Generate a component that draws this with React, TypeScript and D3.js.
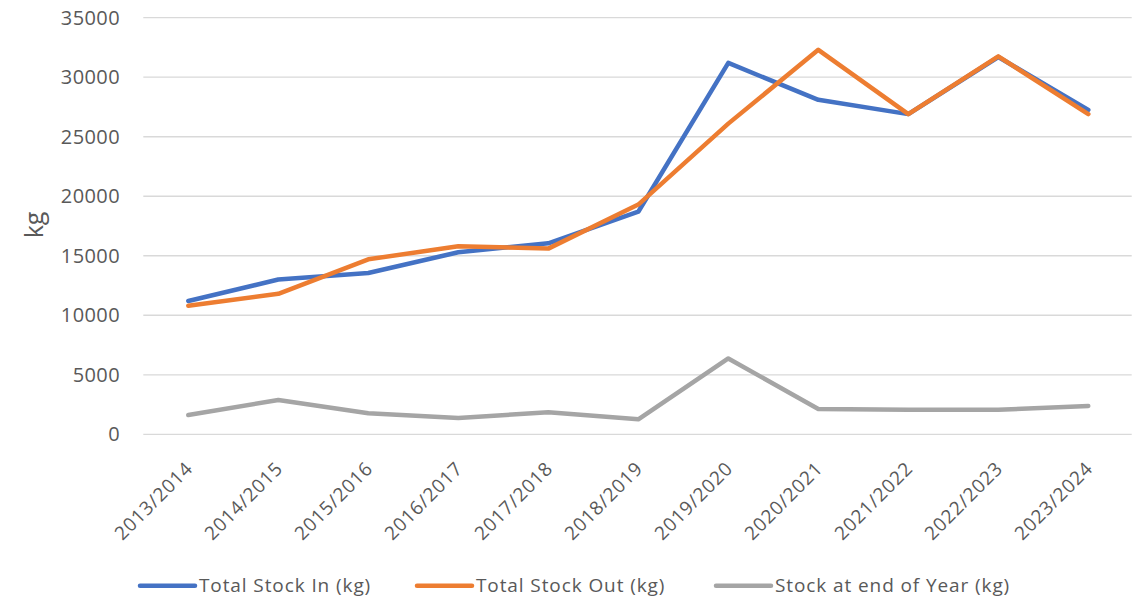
import React from "react";
import * as d3 from "d3";

const categories = [
  "2013/2014", "2014/2015", "2015/2016", "2016/2017", "2017/2018", "2018/2019",
  "2019/2020", "2020/2021", "2021/2022", "2022/2023", "2023/2024",
];
const stockIn = [11200, 13000, 13550, 15300, 16050, 18700, 31200, 28100, 26900, 31700, 27250];
const stockOut = [10800, 11800, 14700, 15800, 15600, 19300, 26100, 32300, 26900, 31750, 26900];
const stockEnd = [1620, 2880, 1770, 1370, 1850, 1260, 6370, 2130, 2070, 2060, 2380];
const yTicks = [0, 5000, 10000, 15000, 20000, 25000, 30000, 35000];
const seriesNames = ["Total Stock In (kg)", "Total Stock Out (kg)", "Stock at end of Year (kg)"];
const seriesColors = ["#4472C4", "#ED7D31", "#A5A5A5"];

const W = 1142;
const H = 600;
const FONT = "'Open Sans', sans-serif";

export default function App() {
  const x = d3.scaleBand<string>().domain(categories).range([143.3, 1133.3]);
  const y = d3.scaleLinear().domain([0, 35000]).range([434.3, 17.7]);
  const cx = (c: string) => (x(c) ?? 0) + x.bandwidth() / 2;
  const line = d3
    .line<number>()
    .x((_, i) => cx(categories[i]))
    .y((d) => y(d));
  const series = [stockIn, stockOut, stockEnd];
  const legendX = [140, 417, 716];

  return (
    <svg
      width={W}
      height={H}
      style={{ position: "absolute", left: 0, top: 0, background: "#fff" }}
      fontFamily={FONT}
    >
      {yTicks.map((t) => (
        <g key={t}>
          <line x1={143.3} x2={1131.7} y1={y(t)} y2={y(t)} stroke="#D9D9D9" strokeWidth={1.3} />
          <text x={120} y={y(t)} dy="0.35em" textAnchor="end" fontSize={20} letterSpacing={0.4} fill="#595959">
            {t}
          </text>
        </g>
      ))}
      <text
        transform={`translate(43,225) rotate(-90)`}
        textAnchor="middle"
        fontSize={25}
        fill="#595959"
      >
        kg
      </text>
      {categories.map((c) => (
        <text
          key={c}
          transform={`translate(${cx(c) + 1},${465}) rotate(-45)`}
          textAnchor="end"
          dy="0.35em"
          fontSize={19}
          letterSpacing={0.8}
          fill="#595959"
        >
          {c}
        </text>
      ))}
      {series.map((s, i) => (
        <path
          key={i}
          d={line(s) ?? ""}
          fill="none"
          stroke={seriesColors[i]}
          strokeWidth={4.5}
          strokeLinejoin="round"
          strokeLinecap="round"
        />
      ))}
      {seriesNames.map((n, i) => (
        <g key={n}>
          <line
            x1={legendX[i]}
            x2={legendX[i] + 55}
            y1={585.7}
            y2={585.7}
            stroke={seriesColors[i]}
            strokeWidth={4.5}
            strokeLinecap="round"
          />
          <text x={legendX[i] + 59} y={585.7} dy="0.35em" fontSize={19} letterSpacing={0.9} fill="#595959">
            {n}
          </text>
        </g>
      ))}
    </svg>
  );
}
